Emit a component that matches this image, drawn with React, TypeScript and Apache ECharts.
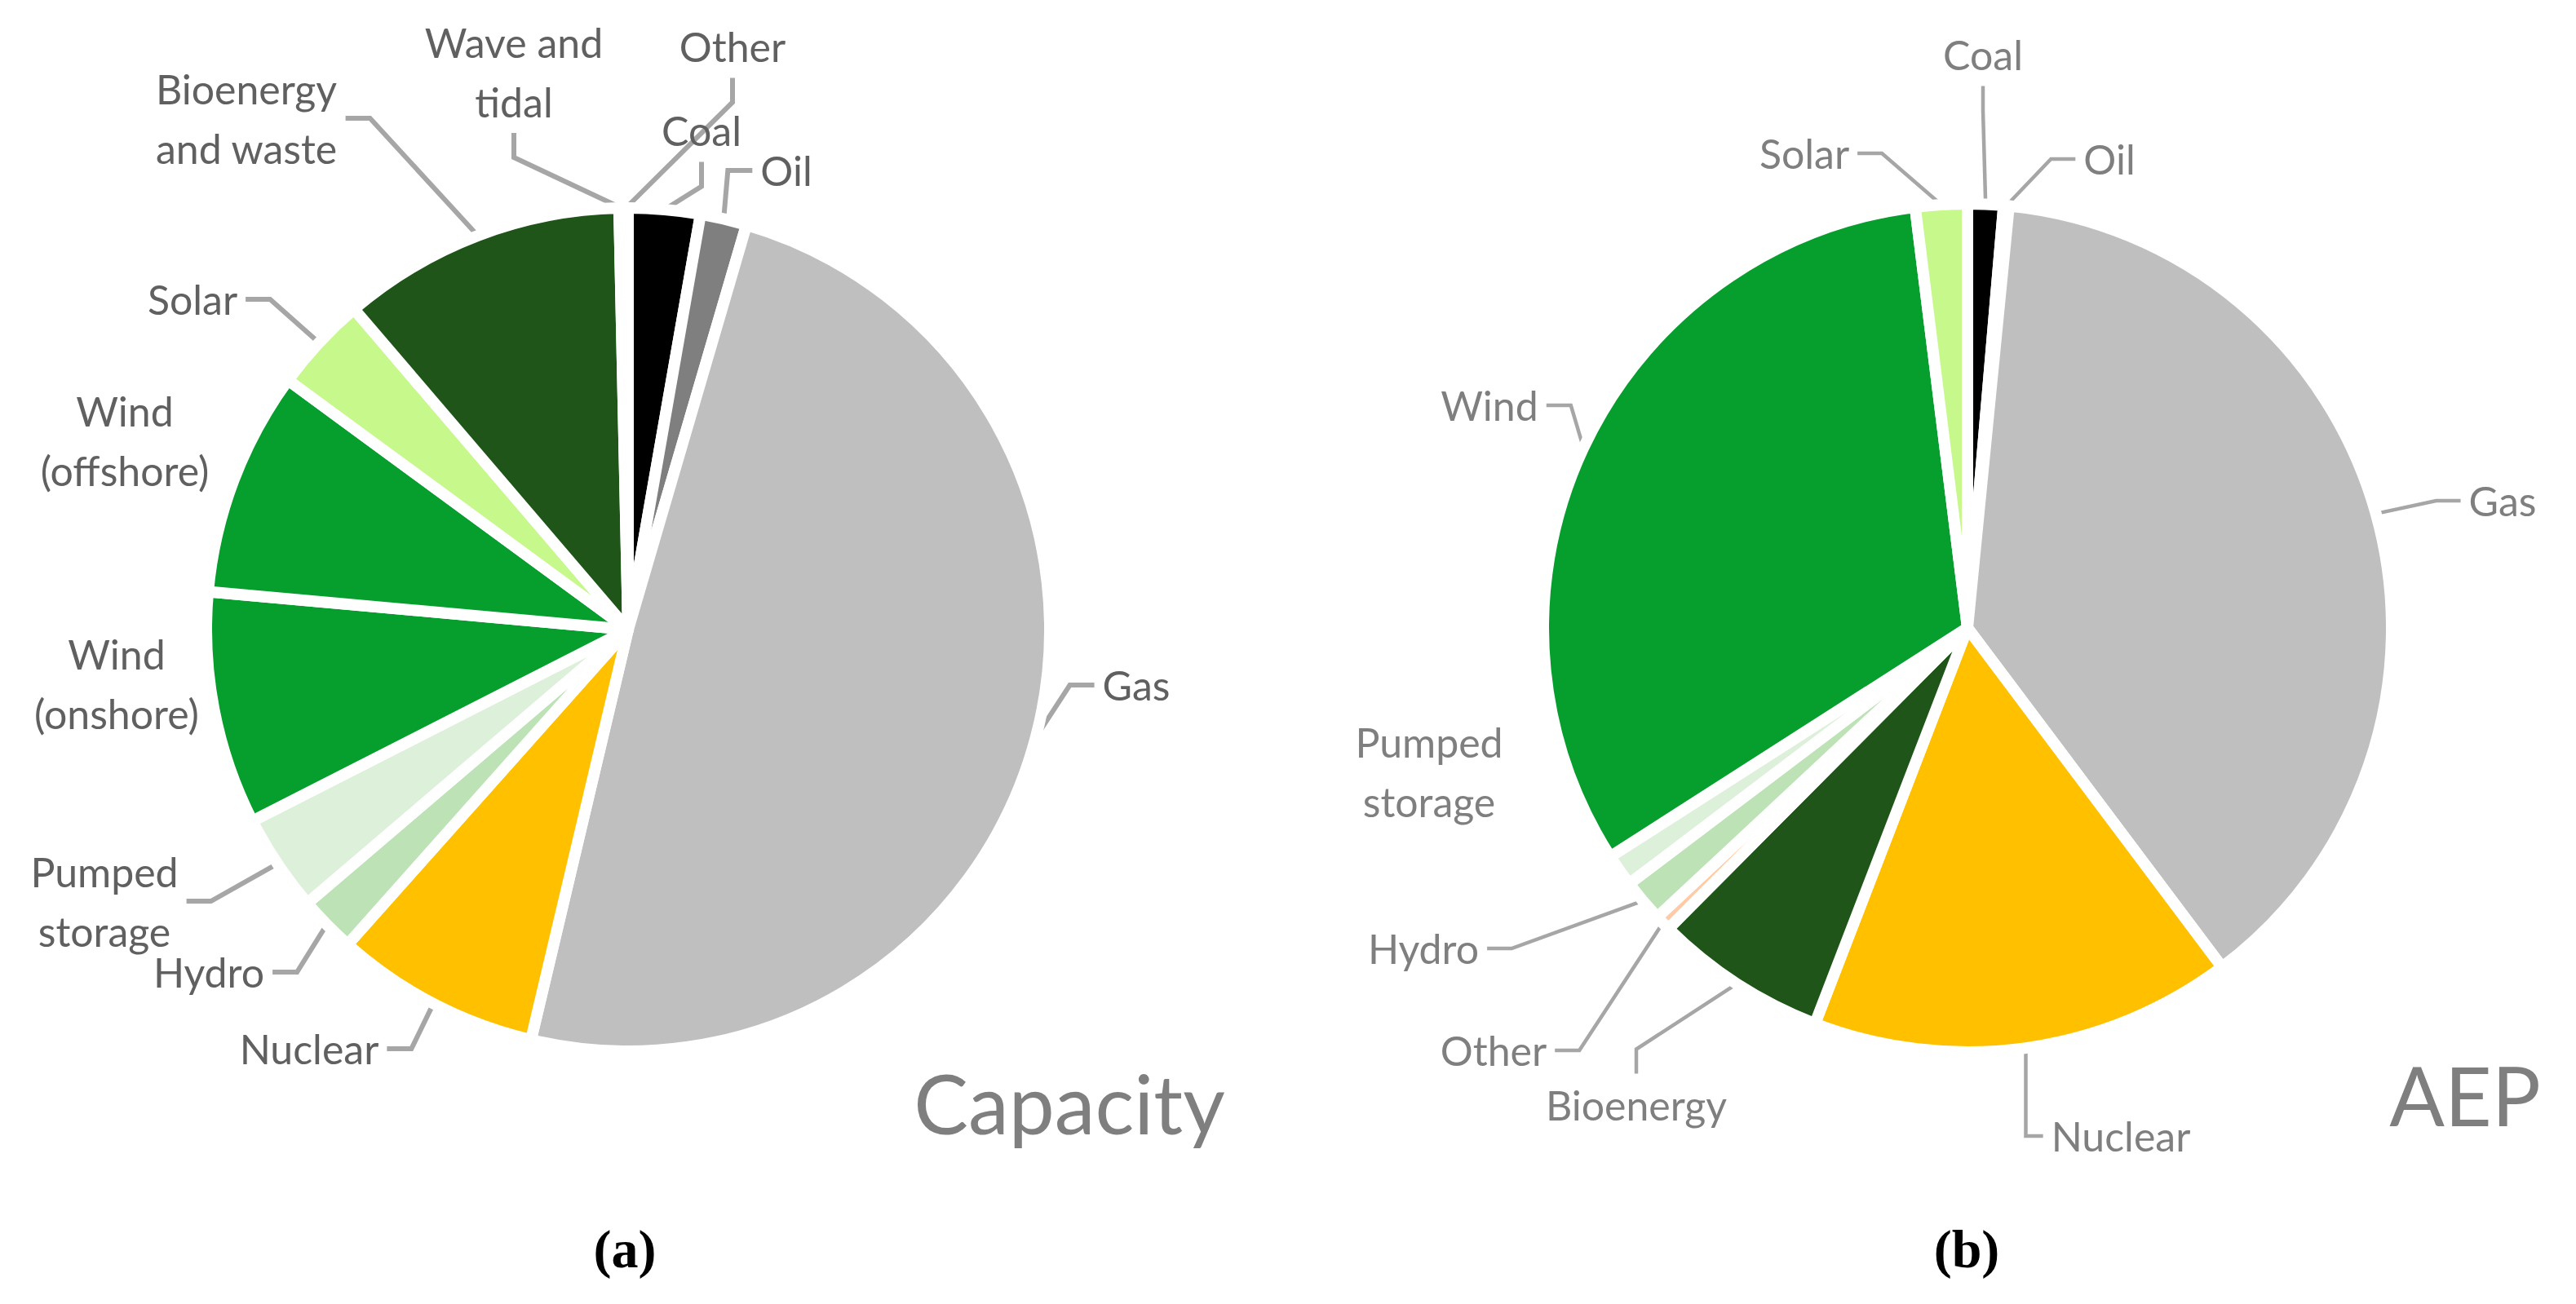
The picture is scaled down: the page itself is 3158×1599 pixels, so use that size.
import React, { useEffect, useRef } from 'react';
import * as echarts from 'echarts';

// ---- Data (percent shares) ----
const capacityCategories = [
  'Coal', 'Oil', 'Gas', 'Nuclear', 'Hydro', 'Pumped storage',
  'Wind (onshore)', 'Wind (offshore)', 'Solar', 'Bioenergy and waste',
  'Wave and tidal', 'Other',
];
const capacityValues = [2.75, 1.78, 49.18, 7.88, 2.18, 3.74, 8.94, 8.64, 3.67, 10.92, 0.17, 0.17];
const capacityLabels = [
  'Coal', 'Oil', 'Gas', 'Nuclear', 'Hydro', 'Pumped\nstorage',
  'Wind\n(onshore)', 'Wind\n(offshore)', 'Solar', 'Bioenergy\nand waste',
  'Wave and\ntidal', 'Other',
];

const aepCategories = [
  'Coal', 'Oil', 'Gas', 'Nuclear', 'Bioenergy', 'Other', 'Hydro',
  'Pumped storage', 'Wind', 'Solar',
];
const aepValues = [1.36, 0.2, 38.2, 16.1, 6.6, 0.6, 1.64, 1.24, 32.1, 1.97];
const aepLabels = [
  'Coal', 'Oil', 'Gas', 'Nuclear', 'Bioenergy', 'Other', 'Hydro',
  'Pumped\nstorage', 'Wind', 'Solar',
];

const panelTitles = ['Capacity', 'AEP'];
const panelTags = ['(a)', '(b)'];

// ---- Styles / layout ----
const COLORS: Record<string, string> = {
  Coal: '#000000',
  Oil: '#7F7F7F',
  Gas: '#BFBFBF',
  Nuclear: '#FFC000',
  Hydro: '#BCE2B6',
  'Pumped storage': '#DDF0DA',
  'Wind (onshore)': '#069E2D',
  'Wind (offshore)': '#069E2D',
  Wind: '#069E2D',
  Solar: '#C7F88B',
  'Bioenergy and waste': '#1F5519',
  Bioenergy: '#1F5519',
  'Wave and tidal': '#4472C4',
  Other: '#FFCBA6',
};

const CAP_LABEL_POS: Record<string, [number, number]> = {
  Coal: [860, 160],
  Oil: [964, 209],
  Gas: [1393, 840],
  Nuclear: [379, 1286],
  Hydro: [256, 1192],
  'Pumped storage': [128, 1105],
  'Wind (onshore)': [143, 838],
  'Wind (offshore)': [153, 540],
  Solar: [236, 367],
  'Bioenergy and waste': [302, 145],
  'Wave and tidal': [630, 88],
  Other: [898, 57],
};
const CAP_NO_LINE = ['Wind (onshore)', 'Wind (offshore)'];

const AEP_LABEL_POS: Record<string, [number, number]> = {
  Coal: [2431, 67],
  Oil: [2586, 195],
  Gas: [3068, 614],
  Nuclear: [2600, 1393],
  Bioenergy: [2006, 1355],
  Other: [1831, 1288],
  Hydro: [1745, 1163],
  'Pumped storage': [1752, 946],
  Wind: [1826, 497],
  Solar: [2212, 188],
};
const AEP_NO_LINE = ['Pumped storage'];

const FONT = 'Lato, "Open Sans", sans-serif';

function buildSeries(
  categories: string[],
  values: number[],
  labels: string[],
  pos: Record<string, [number, number]>,
  noLine: string[],
  center: [number, number],
  radius: number,
  textColor: string,
  lineWidth: number,
) {
  return {
    type: 'pie',
    center,
    radius,
    startAngle: 90,
    clockwise: true,
    avoidLabelOverlap: false,
    silent: true,
    emphasis: { disabled: true },
    itemStyle: { borderColor: '#ffffff', borderWidth: 14 },
    label: {
      show: true,
      position: 'outside',
      color: textColor,
      fontFamily: FONT,
      fontSize: 50,
      lineHeight: 73,
      align: 'center',
      padding: [2, 10, 2, 10],
    },
    labelLine: {
      show: true,
      length: 20,
      length2: 30,
      smooth: false,
      lineStyle: { color: '#A6A6A6', width: lineWidth },
    },
    labelLayout: (p: any) => {
      const name = categories[p.dataIndex];
      const xy = pos[name];
      return { x: xy[0], y: xy[1], align: 'center', verticalAlign: 'middle' };
    },
    data: categories.map((c, i) => ({
      name: c,
      value: values[i],
      itemStyle: { color: COLORS[c] },
      label: { formatter: labels[i] },
      labelLine: noLine.indexOf(c) >= 0 ? { show: false } : { show: true },
    })),
  };
}

export default function App() {
  const ref = useRef<HTMLDivElement>(null);

  useEffect(() => {
    document.body.style.margin = '0';
    if (!ref.current) return;
    const chart = echarts.init(ref.current, undefined, { renderer: 'svg' });
    chart.setOption({
      animation: false,
      backgroundColor: '#ffffff',
      series: [
        buildSeries(capacityCategories, capacityValues, capacityLabels, CAP_LABEL_POS, CAP_NO_LINE,
          [770, 772], 517, '#606060', 6),
        buildSeries(aepCategories, aepValues, aepLabels, AEP_LABEL_POS, AEP_NO_LINE,
          [2412, 770], 520, '#7F7F7F', 4.5),
      ],
      graphic: [
        {
          type: 'text', x: 1311, y: 1352,
          style: { text: panelTitles[0], fill: '#7F7F7F', font: `100px ${FONT}`, align: 'center', verticalAlign: 'middle' },
        },
        {
          type: 'text', x: 3022, y: 1342,
          style: { text: panelTitles[1], fill: '#7F7F7F', font: `100px ${FONT}`, align: 'center', verticalAlign: 'middle' },
        },
        {
          type: 'text', x: 766, y: 1531,
          style: { text: panelTags[0], fill: '#000000', font: `bold 66px "Liberation Serif", "DejaVu Serif", serif`, align: 'center', verticalAlign: 'middle' },
        },
        {
          type: 'text', x: 2411, y: 1531,
          style: { text: panelTags[1], fill: '#000000', font: `bold 66px "Liberation Serif", "DejaVu Serif", serif`, align: 'center', verticalAlign: 'middle' },
        },
      ],
    });
    return () => chart.dispose();
  }, []);

  return <div ref={ref} style={{ width: 3158, height: 1599 }} />;
}
